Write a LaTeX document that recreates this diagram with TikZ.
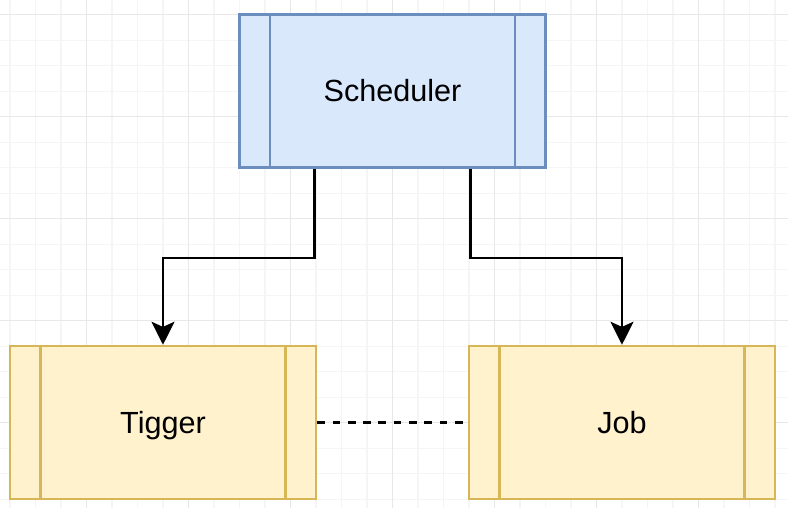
\documentclass[tikz,border=0pt]{standalone}
\usepackage{fontspec}
\setmainfont{Liberation Sans}
\usetikzlibrary{arrows.meta}

\definecolor{blueFill}{HTML}{DAE8FC}
\definecolor{blueLine}{HTML}{6C8EBF}
\definecolor{yellowFill}{HTML}{FFF2CC}
\definecolor{yellowLine}{HTML}{D6B656}

\tikzset{
  process/.style={draw, line width=1pt, minimum width=120pt, minimum height=60pt,
    inner sep=0pt, text height=11pt, text depth=2.4pt, font=\fontsize{12}{14}\selectfont,
    path picture={
      \draw[line width=1pt, #1] ([xshift=12pt]path picture bounding box.north west)
        -- ([xshift=12pt]path picture bounding box.south west);
      \draw[line width=1pt, #1] ([xshift=-12pt]path picture bounding box.north east)
        -- ([xshift=-12pt]path picture bounding box.south east);
    }},
  flow/.style={line width=1.1pt, -{Stealth[length=9pt, width=9pt, inset=2pt]}}
}

\begin{document}
\begin{tikzpicture}[x=1pt, y=1pt]
  \useasboundingbox[fill=white] (-33.92, 5.69) rectangle (275.1, -193.53);

  % background grid
  \draw[color=black!4, line width=0.4pt] (-33.92, 5.69) grid[step=10pt] (275.1, -193.53);
  \draw[color=black!9, line width=0.4pt] (-33.92, 5.69) grid[step=40pt] (275.1, -193.53);

  \node[process=blueLine, fill=blueFill, draw=blueLine] (sched) at (120, -30) {Scheduler};
  \node[process=yellowLine, fill=yellowFill, draw=yellowLine] (tigger) at (30, -160) {Tigger};
  \node[process=yellowLine, fill=yellowFill, draw=yellowLine] (job) at (210, -160) {Job};

  \draw[flow] ([xshift=30pt]sched.south west) -- ++(0, -35) -| (tigger.north);
  \draw[flow] ([xshift=-30pt]sched.south east) -- ++(0, -35) -| (job.north);
  \draw[line width=1pt, dash pattern=on 3pt off 3pt] (tigger.east) -- (job.west);
\end{tikzpicture}
\end{document}
